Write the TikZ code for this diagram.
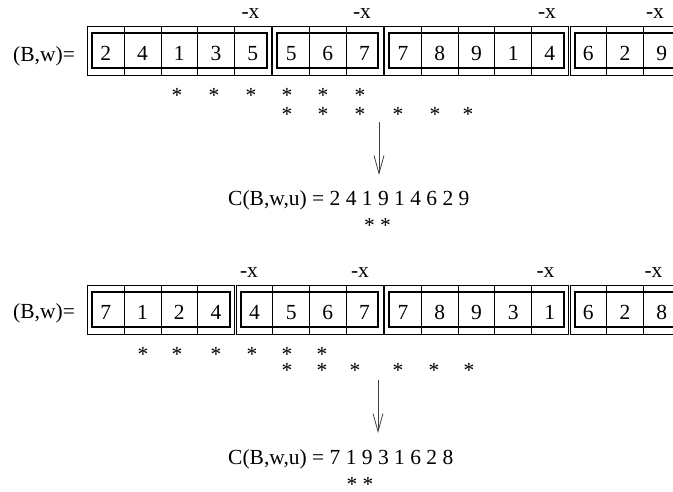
\documentclass[tikz,border=0pt]{standalone}
\usepackage{fontspec}
\setmainfont{Liberation Serif}
\usetikzlibrary{arrows.meta}

\tikzset{
  txt/.style={anchor=base, inner sep=0pt, font=\fontsize{21.5}{25}\selectfont},
  outerbox/.style={line width=0.8pt},
  innerbox/.style={line width=2pt},
  conn/.style={line width=0.8pt, black!75, -{Straight Barb[length=18pt,width=10pt,line width=0.8pt]}},
}

\newcommand{\cellw}{36.7}
% \cellblock{name}{left x}{top y}{cells}{digits}
\newcommand{\cellblock}[5]{%
  \draw[outerbox] (#2,#3) rectangle ++(#4*\cellw,49);
  \draw[innerbox] (#2+4.5,#3+7) rectangle ++(#4*\cellw-9,35);
  \foreach \d [count=\i] in {#5} {
    \node[txt] (#1-\i) at (#2+\i*\cellw-\cellw/2,#3+34.5) {\d};
    \ifnum\i<#4 \draw[outerbox] (#2+\i*\cellw,#3) -- ++(0,49); \fi
  }
}

\begin{document}
\begin{tikzpicture}

\begin{scope}[x=1pt,y=-1pt]
\useasboundingbox (0,0) rectangle (673,491);
\clip (0,0) rectangle (673,491);

% first word
\node[txt, anchor=base west] (bw1) at (13,61) {(B,w)=};
\cellblock{ta}{87.5}{26}{5}{2,4,1,3,5}
\cellblock{tb}{272.8}{26}{3}{5,6,7}
\cellblock{tc}{384.7}{26}{5}{7,8,9,1,4}
\cellblock{td}{570}{26}{3}{6,2,9}

\foreach \x [count=\i] in {250.5,362,547,655}
  \node[txt] (tx\i) at (\x,18.5) {-x};
\foreach \x [count=\i] in {177,214,251,287,323,360}
  \node[txt] (ts\i) at (\x,102.7) {*};
\foreach \x [count=\i] in {287,323,360,398,435,468}
  \node[txt] (tt\i) at (\x,121.7) {*};

\coordinate (ta1) at (379,122);
\coordinate (ta2) at (379,175);
\draw[conn] (ta1) -- (ta2);

\node[txt, anchor=base west] (c1) at (228,205) {C(B,w,u) = 2 4 1 9 1 4 6 2 9};
\node[txt] (cs1) at (377.5,232) {* *};

% second word
\node[txt, anchor=base west] (bw2) at (13,318) {(B,w)=};
\cellblock{ba}{87.5}{285}{4}{7,1,2,4}
\cellblock{bb}{236.1}{285}{4}{4,5,6,7}
\cellblock{bc}{384.7}{285}{5}{7,8,9,3,1}
\cellblock{bd}{570}{285}{3}{6,2,8}

\foreach \x [count=\i] in {249,360,545.5,653.5}
  \node[txt] (bx\i) at (\x,277.3) {-x};
\foreach \x [count=\i] in {143,177,216,252,287,322}
  \node[txt] (bs\i) at (\x,361.2) {*};
\foreach \x [count=\i] in {287,322,355,398,434,469}
  \node[txt] (bt\i) at (\x,377.2) {*};

\coordinate (ba1) at (378,380);
\coordinate (ba2) at (378,433);
\draw[conn] (ba1) -- (ba2);

\node[txt, anchor=base west] (c2) at (228,464) {C(B,w,u) = 7 1 9 3 1 6 2 8};
\node[txt] (cs2) at (360,491.5) {* *};
\end{scope};

\end{tikzpicture}
\end{document}
